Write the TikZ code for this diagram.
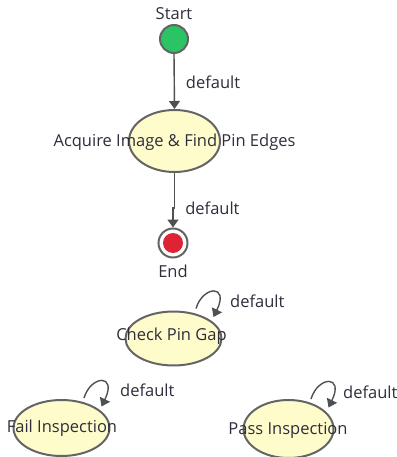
\documentclass[tikz,border=0pt]{standalone}
\usepackage{fontspec}
\setmainfont{Open Sans}
\usetikzlibrary{shapes.geometric,arrows.meta,calc}
\definecolor{bordergrey}{RGB}{100,100,100}
\definecolor{linegrey}{RGB}{80,80,80}
\definecolor{txtcol}{RGB}{45,45,60}
\definecolor{stfill}{RGB}{255,252,204}
\definecolor{startgreen}{RGB}{42,196,100}
\definecolor{endred}{RGB}{220,36,52}
\tikzset{
  statebox/.style={ellipse, draw=bordergrey, line width=2pt, fill=stfill, inner sep=0pt},
  txt/.style={font=\fontsize{16.5}{19}\selectfont, text=txtcol, inner sep=1pt, yshift=-1.5pt},
  arr/.style={draw=linegrey, line width=1.4pt, -{Triangle[length=8pt,width=11pt]}},
  lbl/.style={font=\fontsize{16.5}{19}\selectfont, text=txtcol, inner sep=1pt}
}
\begin{document}
\begin{tikzpicture}[x=1pt,y=-1pt]
\useasboundingbox (0,0) rectangle (396,457);
% nodes
\node[circle, draw=bordergrey, line width=2pt, fill=startgreen, minimum size=28pt, inner sep=0pt] (start) at (174,39) {};
\node[txt] (startlbl) at (174,12) {Start};
\node[statebox, minimum width=91pt, minimum height=62pt] (acq) at (174.5,141) {};
\node[txt] (acqt) at (acq.center) {Acquire Image \& Find Pin Edges};
\node[circle, draw=bordergrey, line width=2pt, fill=white, minimum size=29pt, inner sep=0pt] (end) at (173,243) {};
\node[circle, fill=endred, minimum size=20pt, inner sep=0pt] (endin) at (end.center) {};
\node[txt] (endlbl) at (173,270) {End};
\node[statebox, minimum width=96pt, minimum height=54pt] (check) at (173.5,338.5) {};
\node[txt] (checkt) at (171.5,335) {Check Pin Gap};
\node[statebox, minimum width=96pt, minimum height=56pt] (fail) at (61.5,428) {};
\node[txt] (failt) at (62,427) {Fail Inspection};
\node[statebox, minimum width=90pt, minimum height=58pt] (pass) at (288.5,429) {};
\node[txt] (passt) at (288,429) {Pass Inspection};
% connectors
\draw[arr] (start.south) -- node[lbl, pos=0.52, right=10pt] (d1) {default} (acq.north);
\draw[arr] (acq.south) -- ++(0,35) coordinate (jog) -| node[lbl, pos=0.3, right=10pt] (d2) {default} (end.north);
% self loops
\draw[arr] ($(check.center)+(22.5,-30)$) .. controls +(7,-23) and +(16,-33) .. ($(check.center)+(40,-21.5)$);
\node[lbl, anchor=west] (d3) at (229,301) {default};
\draw[arr] ($(fail.center)+(22.5,-30)$) .. controls +(7,-23) and +(16,-33) .. ($(fail.center)+(40,-21.5)$);
\node[lbl, anchor=west] (d4) at (119,390) {default};
\draw[arr] ($(pass.center)+(22.5,-30)$) .. controls +(7,-23) and +(16,-33) .. ($(pass.center)+(40,-21.5)$);
\node[lbl, anchor=west] (d5) at (342,392) {default};
\end{tikzpicture}
\end{document}
